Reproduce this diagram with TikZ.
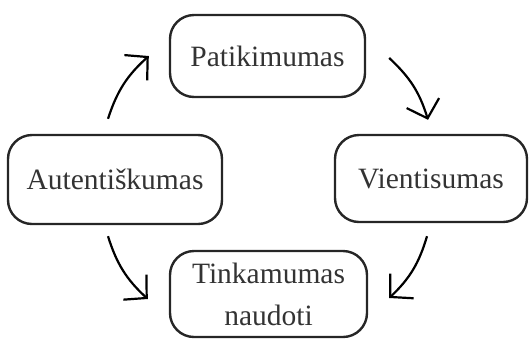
\documentclass[tikz,border=0pt]{standalone}
\usepackage{fontspec}
\setmainfont{Liberation Serif}
\usetikzlibrary{arrows.meta,calc}
\begin{document}
\begin{tikzpicture}[x=1pt,y=-1pt,
  box/.style={draw=black!85,line width=2.4pt,rounded corners=24pt,inner sep=0pt,
    align=center,font=\fontsize{29.5}{42}\selectfont,text=black!80},
  conn/.style={line width=2.2pt,-{Straight Barb[length=16pt,width=34pt,line width=2.2pt]}}]
\useasboundingbox (0,0) rectangle (529,341);
\node[box,minimum width=195pt,minimum height=82pt] (pat) at (267.5,56) {Patikimumas};
\node[box,minimum width=214pt,minimum height=89pt] (aut) at (115,179.5) {Autentiškumas};
\node[box,minimum width=192pt,minimum height=87pt] (vie) at (431,178.5) {Vientisumas};
\node[box,minimum width=197pt,minimum height=86pt] (tin) at (268.5,294) {Tinkamumas\\naudoti};
\draw[conn] ($(aut.north)+(-7,-15)$) to[bend left=15] ($(pat.west)+(-20,0)$);
\draw[conn] ($(pat.east)+(23,2)$) to[bend left=15] ($(vie.north)+(-3,-14)$);
\draw[conn] ($(vie.south)+(-4,13)$) to[bend left=15] ($(tin.east)+(21,4)$);
\draw[conn] ($(aut.south)+(-7,11)$) to[bend right=15] ($(tin.west)+(-21,5)$);
\end{tikzpicture}
\end{document}
